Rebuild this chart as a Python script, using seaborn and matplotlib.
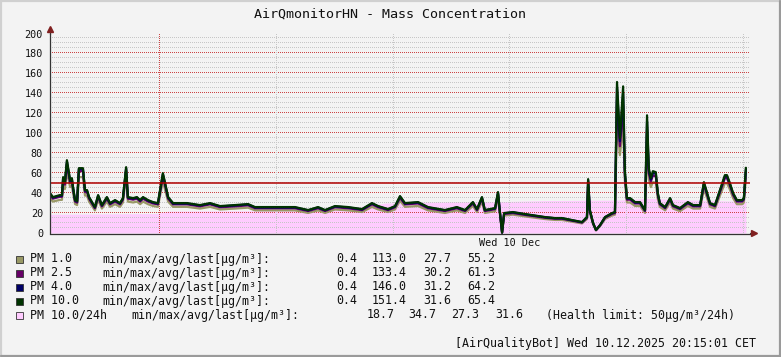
import numpy as np
import pandas as pd
import matplotlib
matplotlib.use('Agg')
import matplotlib.pyplot as plt
from matplotlib.patches import Rectangle
from matplotlib.lines import Line2D
import seaborn as sns

# hours since 09.12.2025 20:15 (graph covers the last 24h)
hours = [0.00, 0.10, 0.34, 0.41, 0.45, 0.51, 0.58, 0.69, 0.75, 0.79, 0.86, 0.93, 0.99, 1.13,
         1.20, 1.27, 1.34, 1.54, 1.65, 1.78, 1.95, 2.06, 2.23, 2.40, 2.50, 2.61, 2.67, 2.85,
         2.98, 3.09, 3.19, 3.36, 3.53, 3.70, 3.87, 3.94, 4.05, 4.22, 4.70, 5.14, 5.49, 5.83,
         6.34, 6.79, 7.03, 7.61, 8.40, 8.85, 9.19, 9.43, 9.77, 10.22, 10.70, 11.04, 11.25, 11.59,
         11.83, 12.00, 12.17, 12.62, 12.96, 13.54, 13.95, 14.23, 14.50, 14.64, 14.81, 14.91, 15.26, 15.36,
         15.43, 15.50, 15.57, 15.87, 16.29, 16.97, 17.31, 17.55, 18.24, 18.41, 18.45, 18.51, 18.62, 18.72,
         18.86, 19.03, 19.27, 19.37, 19.44, 19.54, 19.65, 19.71, 19.78, 19.89, 20.06, 20.23, 20.40, 20.47,
         20.53, 20.60, 20.67, 20.77, 20.84, 20.91, 21.09, 21.26, 21.36, 21.60, 21.87, 22.05, 22.29, 22.42,
         22.53, 22.63, 22.80, 22.97, 23.14, 23.21, 23.31, 23.42, 23.55, 23.73, 23.79, 23.86]

pm10 = [40, 36, 38, 38, 56, 51, 73, 53, 55, 46, 33, 32, 65, 65,
        43, 43, 36, 26, 38, 28, 36, 30, 33, 30, 35, 66, 36, 35,
        36, 33, 36, 33, 31, 30, 60, 51, 36, 30, 30, 28, 30, 27,
        28, 29, 26, 26, 26, 23, 26, 23, 27, 26, 24, 30, 27, 24,
        27, 37, 30, 31, 26, 23, 26, 23, 31, 24, 36, 23, 25, 41,
        20, 0.4, 20, 21, 19, 16, 15, 15, 11, 16, 54, 23, 10, 3,
        8, 16, 20, 21, 151.4, 95, 147, 63, 35, 35, 31, 31, 23, 118,
        65, 55, 62, 61, 40, 30, 26, 35, 28, 25, 31, 28, 28, 51,
        40, 30, 28, 43, 58, 58, 50, 40, 33, 33, 35, 65.4]

pm4 = [39.4, 35.5, 37.4, 37.4, 55, 50, 71.5, 52, 54, 45.3, 32.5, 31.5, 64, 64,
       42.4, 42.4, 35.5, 25.6, 37.4, 27.6, 35.5, 29.5, 32.5, 29.5, 34.5, 65, 35.5, 34.5,
       35.5, 32.5, 35.5, 32.5, 30.5, 29.5, 59, 50, 35.5, 29.5, 29.5, 27.6, 29.5, 26.6,
       27.6, 28.6, 25.6, 25.6, 25.6, 22.7, 25.6, 22.7, 26.6, 25.6, 23.6, 29.5, 26.6, 23.6,
       26.6, 36.4, 29.5, 30.5, 25.6, 22.7, 25.6, 22.7, 30.5, 23.6, 35.5, 22.7, 24.6, 40.4,
       19.7, 0.4, 19.7, 20.7, 18.7, 15.8, 14.8, 14.8, 10.8, 15.8, 53, 22.7, 9.9, 3,
       7.9, 15.8, 19.7, 20.7, 146, 92, 140, 60, 34.5, 34.5, 30.5, 30.5, 22.7, 112,
       63, 53.5, 60, 59.5, 39.2, 29.5, 25.6, 34.5, 27.6, 24.6, 30.5, 27.6, 27.6, 50,
       39.4, 29.5, 27.6, 42.4, 57, 57, 49.2, 39.4, 32.5, 32.5, 34.5, 64.2]

pm25 = [38.2, 34.4, 36.3, 36.3, 53, 48.5, 69, 50.5, 52.5, 44, 31.5, 30.5, 62, 62,
        41, 41, 34.4, 24.8, 36.3, 26.7, 34.4, 28.7, 31.5, 28.7, 33.4, 63, 34.4, 33.4,
        34.4, 31.5, 34.4, 31.5, 29.6, 28.7, 57, 48.5, 34.4, 28.7, 28.7, 26.7, 28.7, 25.8,
        26.7, 27.7, 24.8, 24.8, 24.8, 22, 24.8, 22, 25.8, 24.8, 22.9, 28.7, 25.8, 22.9,
        25.8, 35.3, 28.7, 29.6, 24.8, 22, 24.8, 22, 29.6, 22.9, 34.4, 22, 23.9, 39.2,
        19.1, 0.4, 19.1, 20, 18.1, 15.3, 14.3, 14.3, 10.5, 15.3, 51.5, 22, 9.6, 2.9,
        7.6, 15.3, 19.1, 20, 133.4, 87, 128, 57, 33.4, 33.4, 29.6, 29.6, 22, 103,
        60, 51.5, 57.5, 57, 37.8, 28.7, 24.8, 33.4, 26.7, 23.9, 29.6, 26.7, 26.7, 48.5,
        38.2, 28.7, 26.7, 41, 55, 55, 47.8, 38.2, 31.5, 31.5, 33.4, 61.3]

pm1 = [35, 31.5, 33.2, 33.2, 48, 44, 62, 46, 47.5, 40, 29, 28, 56, 56,
       37.5, 37.5, 31.5, 22.7, 33.2, 24.5, 31.5, 26.2, 28.9, 26.2, 30.6, 57, 31.5, 30.6,
       31.5, 28.9, 31.5, 28.9, 27.1, 26.2, 52, 44, 31.5, 26.2, 26.2, 24.5, 26.2, 23.6,
       24.5, 25.4, 22.7, 22.7, 22.7, 20.1, 22.7, 20.1, 23.6, 22.7, 21, 26.2, 23.6, 21,
       23.6, 32.4, 26.2, 27.1, 22.7, 20.1, 22.7, 20.1, 27.1, 21, 31.5, 20.1, 21.9, 35.9,
       17.5, 0.4, 17.5, 18.4, 16.6, 14, 13.1, 13.1, 9.6, 14, 47, 20.1, 8.8, 2.6,
       7, 14, 17.5, 18.4, 113, 78, 108, 52, 30.6, 30.6, 27.1, 27.1, 20.1, 88,
       54, 46, 51, 50.5, 34, 26.2, 22.7, 30.6, 24.5, 21.9, 27.1, 24.5, 24.5, 44,
       35, 26.2, 24.5, 37.5, 50, 50, 43.7, 35, 28.9, 28.9, 30.6, 55.2]

# 24h rolling mean of PM 10.0
avg24_hours = [0.00, 3.70, 3.80, 4.05, 9.50, 10.50, 11.50, 13.00, 15.50, 17.00, 19.50, 20.50, 22.00, 23.86]
avg24 = [18.7, 19.5, 20.5, 22.0, 22.5, 26.0, 30.0, 31.0, 31.5, 32.5, 33.0, 34.7, 33.0, 31.6]

series_names = ['PM 1.0', 'PM 2.5', 'PM 4.0', 'PM 10.0']
series_colors = ['#999966', '#660066', '#000066', '#003300']
stat_min = ['0.4', '0.4', '0.4', '0.4']
stat_max = ['113.0', '133.4', '146.0', '151.4']
stat_avg = ['27.7', '30.2', '31.2', '31.6']
stat_last = ['55.2', '61.3', '64.2', '65.4']
avg24_stats = ['18.7', '34.7', '27.3', '31.6']

W, H = 781, 357
BG = '#f3f3f3'
PX_PER_HOUR = 700 / 24

sns.set_theme(style='white')
plt.rcParams['font.family'] = ['DejaVu Sans Mono']


def px(x, y):
    """pixel position -> figure fraction"""
    return x / W, 1 - y / H


fig = plt.figure(figsize=(W / 100, H / 100), dpi=100, facecolor=BG)
ax = fig.add_axes([50 / W, 1 - 233.5 / H, 700 / W, 200 / H])
ax.set_facecolor(BG)

# 24h mean area
ax.fill_between(avg24_hours, avg24, 0, color='#ffccff', lw=0, zorder=1)

# dotted grid drawn as single pixels, every second pixel
xs = np.arange(0, 24, 2 / PX_PER_HOUR)
ys = np.arange(0, 200, 2)
for v in range(5, 201, 5):
    c = '#cc4444' if v % 20 == 0 else '#c6c6c6'
    ax.plot(xs, np.full(len(xs), v), ls='none', marker=',', color=c, zorder=2)
for h in [3.75, 7.75, 11.75, 15.75, 19.75, 23.75]:
    c = '#cc4444' if h == 3.75 else '#c6c6c6'
    ax.plot(np.full(len(ys), h), ys, ls='none', marker=',', color=c, zorder=2)

# data lines
df = pd.DataFrame({
    'hour': hours * 4,
    'value': pm1 + pm25 + pm4 + pm10,
    'series': [n for n in series_names for _ in hours],
})
sns.lineplot(data=df, x='hour', y='value', hue='series', hue_order=series_names,
             palette=series_colors, linewidth=1.6, sort=False, legend=False,
             ax=ax, zorder=3)

# health limit
ax.axhline(50, color='#b00000', lw=1.1, zorder=4)

ax.set_xlim(0, 24)
ax.set_ylim(-0.5, 199.5)
ax.set_xlabel('')
ax.set_ylabel('')
ax.set_yticks(range(0, 201, 20))
ax.set_xticks([15.75])
ax.set_xticklabels(['Wed 10 Dec'])
ax.tick_params(axis='y', labelsize=7.3, length=3, width=0.8, color='#333333', pad=2, labelcolor='#111111')
ax.tick_params(axis='x', labelsize=7.3, length=0, pad=3, labelcolor='#111111')
for s in ['top', 'right']:
    ax.spines[s].set_visible(False)
for s in ['left', 'bottom']:
    ax.spines[s].set_color('#333333')
    ax.spines[s].set_linewidth(0.9)
    ax.spines[s].set_zorder(5)

# axis arrows
ax.plot([0, 0], [199.5, 205], color='#333333', lw=0.9, clip_on=False, zorder=5)
ax.plot([0], [205], marker='^', ms=4.5, color='#802020', clip_on=False, zorder=6)
ax.plot([24, 24.12], [-0.5, -0.5], color='#333333', lw=0.9, clip_on=False, zorder=5)
ax.plot([24.12], [-0.5], marker='>', ms=4.5, color='#802020', clip_on=False, zorder=6)

# title
fig.text(*px(390.5, 14), 'AirQmonitorHN - Mass Concentration', ha='center', va='center',
         fontsize=9.6, color='#111111')

# legend
fs = 8.4
rows_y = [259, 273, 287, 301]
for i, name in enumerate(series_names):
    y = rows_y[i]
    fig.add_artist(Rectangle(px(16, y + 4), 7 / W, 7 / H, transform=fig.transFigure,
                             facecolor=series_colors[i], edgecolor='#333333', lw=0.6))
    fig.text(*px(30, y), name, ha='left', va='center', fontsize=fs, color='#111111')
    fig.text(*px(102, y), 'min/max/avg/last[µg/m³]:', ha='left', va='center', fontsize=fs, color='#111111')
    for xr, val in zip([357, 407, 451, 495], [stat_min[i], stat_max[i], stat_avg[i], stat_last[i]]):
        fig.text(*px(xr, y), val, ha='right', va='center', fontsize=fs, color='#111111')

y = 315
fig.add_artist(Rectangle(px(16, y + 4), 7 / W, 7 / H, transform=fig.transFigure,
                         facecolor='#ffccff', edgecolor='#333333', lw=0.6))
fig.text(*px(30, y), 'PM 10.0/24h', ha='left', va='center', fontsize=fs, color='#111111')
fig.text(*px(131, y), 'min/max/avg/last[µg/m³]:', ha='left', va='center', fontsize=fs, color='#111111')
for xr, val in zip([395, 436, 479, 523], avg24_stats):
    fig.text(*px(xr, y), val, ha='right', va='center', fontsize=fs, color='#111111')
fig.text(*px(546, y), '(Health limit: 50µg/m³/24h)', ha='left', va='center', fontsize=fs, color='#111111')

# footer
fig.text(*px(756, 343), '[AirQualityBot] Wed 10.12.2025 20:15:01 CET', ha='right', va='center',
         fontsize=fs, color='#111111')

# frame
for (x0, y0, x1, y1, c) in [(1, 0.5, 1, 356, '#d0d0d0'), (0.5, 1, 780, 1, '#d0d0d0'),
                            (780, 0.5, 780, 356.5, '#9a9a9a'), (0.5, 356, 780.5, 356, '#9a9a9a')]:
    fig.add_artist(Line2D([x0 / W, x1 / W], [1 - y0 / H, 1 - y1 / H], transform=fig.transFigure,
                          color=c, lw=1.6))

fig.savefig('out.png', dpi=100, facecolor=BG)
